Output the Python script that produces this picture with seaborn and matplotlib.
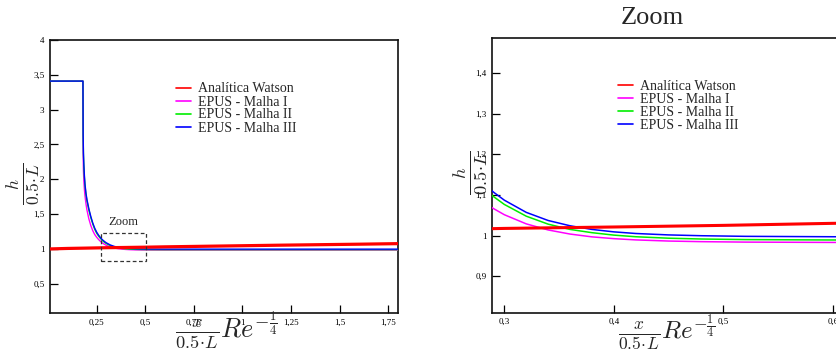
import matplotlib
matplotlib.use("Agg")
import matplotlib.pyplot as plt
import seaborn as sns
from matplotlib.patches import Rectangle

# Analytical solution (Watson)
x_watson = [0.01, 0.1, 0.2, 0.3, 0.4, 0.5, 0.6, 0.8, 1.0, 1.2, 1.4, 1.6, 1.8]
h_watson = [1.000, 1.007, 1.012, 1.0175, 1.021, 1.025, 1.030, 1.038, 1.046,
            1.054, 1.061, 1.068, 1.076]

# EPUS results on three meshes
x_epus = [0.01, 0.1795, 0.1805, 0.182, 0.184, 0.187, 0.19, 0.195, 0.20, 0.21,
          0.22, 0.23, 0.24, 0.25, 0.26, 0.27, 0.28, 0.29, 0.30, 0.32, 0.34,
          0.36, 0.38, 0.40, 0.42, 0.45, 0.48, 0.52, 0.56, 0.60, 0.70, 1.80]
h_malha1 = [3.41, 3.41, 2.40, 2.12, 1.98, 1.85, 1.76, 1.65, 1.56, 1.43, 1.335,
            1.262, 1.207, 1.168, 1.135, 1.1075, 1.0847, 1.0665, 1.0512, 1.0287,
            1.0137, 1.0036, 0.9967, 0.9923, 0.9892, 0.9864, 0.9849, 0.9838,
            0.9834, 0.983, 0.983, 0.983]
h_malha2 = [3.41, 3.41, 2.62, 2.35, 2.19, 2.02, 1.905, 1.78, 1.69, 1.557, 1.449,
            1.358, 1.282, 1.226, 1.184, 1.149, 1.119, 1.096, 1.0765, 1.0476,
            1.028, 1.015, 1.007, 1.001, 0.997, 0.9934, 0.9914, 0.990, 0.9895,
            0.989, 0.989, 0.989]
h_malha3 = [3.41, 3.41, 2.65, 2.38, 2.22, 2.05, 1.93, 1.80, 1.71, 1.575, 1.465,
            1.372, 1.298, 1.241, 1.197, 1.161, 1.131, 1.107, 1.087, 1.057,
            1.037, 1.024, 1.015, 1.009, 1.005, 1.0015, 0.9995, 0.998, 0.9975,
            0.997, 0.997, 0.997]

series_labels = ["Analítica Watson", "EPUS - Malha I", "EPUS - Malha II",
                 "EPUS - Malha III"]

# Tick values and their labels (comma decimal separator)
left_xticks = [0.25, 0.5, 0.75, 1.0, 1.25, 1.5, 1.75]
left_xticklabels = ["0,25", "0,5", "0,75", "1", "1,25", "1,5", "1,75"]
left_yticks = [0.5, 1.0, 1.5, 2.0, 2.5, 3.0, 3.5, 4.0]
left_yticklabels = ["0,5", "1", "1,5", "2", "2,5", "3", "3,5", "4"]
right_xticks = [0.3, 0.4, 0.5, 0.6]
right_xticklabels = ["0,3", "0,4", "0,5", "0,6"]
right_yticks = [0.9, 1.0, 1.1, 1.2, 1.3, 1.4]
right_yticklabels = ["0,9", "1", "1,1", "1,2", "1,3", "1,4"]

sns.set_style("ticks")
plt.rcParams["font.family"] = ["Liberation Serif", "DejaVu Serif"]
plt.rcParams["mathtext.fontset"] = "cm"

W, H = 837, 356
fig = plt.figure(figsize=(W / 100, H / 100), dpi=100)


def px_box(x0, y0, x1, y1):
    return [x0 / W, 1 - y1 / H, (x1 - x0) / W, (y1 - y0) / H]


ax1 = fig.add_axes(px_box(50, 40, 398, 313))
ax2 = fig.add_axes(px_box(492.3, 37.7, 854.7, 312.7))

colors = ["#ff0000", "#ff00ff", "#00ee00", "#0000ff"]


def draw(ax, red_lw, epus_lw):
    sns.lineplot(x=x_watson, y=h_watson, color=colors[0], lw=red_lw,
                 label=series_labels[0], ax=ax, estimator=None, sort=False,
                 zorder=5)
    for h, c, lab in zip([h_malha1, h_malha2, h_malha3], colors[1:],
                         series_labels[1:]):
        sns.lineplot(x=x_epus, y=h, color=c, lw=epus_lw, label=lab, ax=ax,
                     estimator=None, sort=False, zorder=3)


draw(ax1, 2.3, 1.0)
draw(ax2, 2.2, 1.1)

ax1.set_xlim(0.01, 1.80)
ax1.set_ylim(0.08, 4.0)
ax2.set_xlim(0.289, 0.62)
ax2.set_ylim(0.81, 1.487)

for ax, xt, xl, yt, yl in [
        (ax1, left_xticks, left_xticklabels, left_yticks, left_yticklabels),
        (ax2, right_xticks, right_xticklabels, right_yticks, right_yticklabels)]:
    ax.set_xticks(xt)
    ax.set_xticklabels(xl)
    ax.set_yticks(yt)
    ax.set_yticklabels(yl)
    ax.tick_params(direction="in", length=6, width=0.9, labelsize=6.5,
                   pad=4, colors="black")
    ax.set_xlabel("")
    ax.set_ylabel("")
    for s in ax.spines.values():
        s.set_linewidth(1.2)
        s.set_color("#111111")

# zoom window marker
ax1.add_patch(Rectangle((0.27, 0.832), 0.233, 0.402, fill=False,
                        ls=(0, (3, 2)), lw=0.9, ec="#333333", zorder=6))
ax1.text(0.385, 1.39, "Zoom", fontsize=9, ha="center", va="center")

for ax, anchor in [(ax1, (176 / W, 1 - 108.5 / H)),
                   (ax2, (618 / W, 1 - 106.3 / H))]:
    leg = ax.legend(loc="center left", bbox_to_anchor=anchor,
                    bbox_transform=fig.transFigure, frameon=False,
                    fontsize=10, borderpad=0, borderaxespad=0,
                    labelspacing=0.0, handlelength=1.1, handletextpad=0.5)
    for line in leg.get_lines():
        line.set_linewidth(1.2)

# axis labels
xlab = r"$\frac{x}{0.5\!\cdot\! L}Re^{-\frac{1}{4}}$"
ylab = r"$\frac{h}{0.5\!\cdot\! L}$"
fig.text(226 / W, 1 - 310 / H, xlab, fontsize=19, ha="center", va="top")
fig.text(667 / W, 1 - 312 / H, xlab, fontsize=18, ha="center", va="top")
fig.text(24 / W, 1 - 184 / H, ylab, fontsize=18, ha="center", va="center",
         rotation=90)
fig.text(470 / W, 1 - 173 / H, ylab, fontsize=19, ha="center", va="center",
         rotation=90)
fig.text(652.5 / W, 1 - 18 / H, "Zoom", fontsize=19, ha="center",
         va="center")

fig.savefig("out.png", dpi=100)
